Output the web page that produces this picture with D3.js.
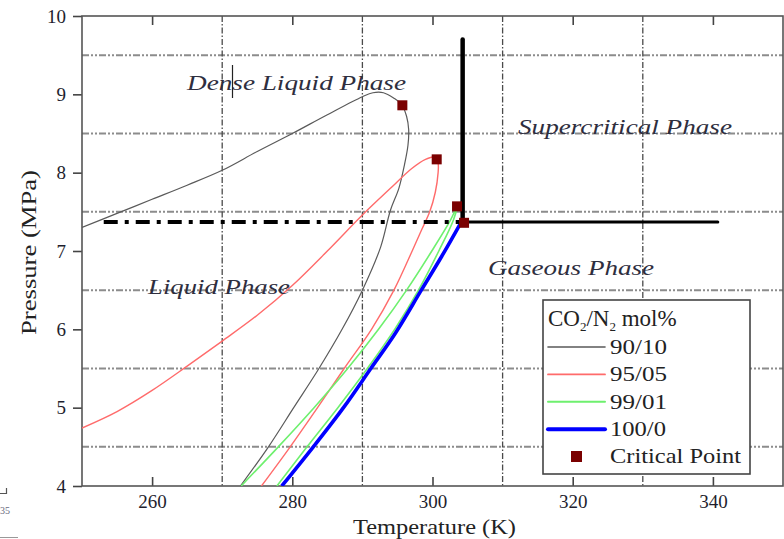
<!DOCTYPE html>
<html>
<head>
<meta charset="utf-8">
<script src="https://cdn.jsdelivr.net/npm/d3@7"></script>
<style>
  body { margin: 0; background: #fff; }
  svg { display: block; }
  svg text { font-family: "Liberation Serif", "Times New Roman", serif; }
  .phase { font-style: italic; fill: #2e2e3e; }
</style>
</head>
<body>
<div id="chart"></div>
<script>
// axis ticks and grid positions
var xTicks = [260, 280, 300, 320, 340];
var yTicks = [4, 5, 6, 7, 8, 9, 10];
var xGrid = [270, 290, 310, 330];
var yGrid = [4.5, 5.5, 6.5, 7.5, 8.5, 9.5];

// phase envelopes [T (K), P (MPa)], bubble side then dew side
var mix90 = [[250,7.3],[255,7.48],[260,7.66],[265,7.84],[270,8.03],[275,8.27],[280,8.5],[285,8.74],[290,8.97],[291.5,9.02],[293,9.02],[294.5,8.95],[295.6,8.87],[296.3,8.72],[296.6,8.55],[296.5,8.35],[296,8.1],[295.2,7.8],[294,7.52],[292.6,7.05],[290,6.5],[287.1,6.0],[283.8,5.5],[280.2,5.0],[276.6,4.5],[272.6,4.0]];
var mix95 = [[250,4.74],[255,4.95],[260,5.22],[265,5.53],[270,5.85],[275,6.18],[280,6.56],[285,7.0],[290,7.46],[294,7.8],[297,8.05],[299,8.17],[300.4,8.2],[300.8,8.12],[300.8,8.0],[300.4,7.75],[299.6,7.5],[298.5,7.28],[297.1,7.0],[294.5,6.5],[291.3,6.0],[287.4,5.5],[283.6,5.0],[279.7,4.5],[275.6,4.0]];
var mix99 = [[272.7,4.0],[278,4.5],[283.1,5.0],[287.9,5.5],[292.3,6.0],[296.3,6.5],[299.9,7.0],[302.6,7.4],[303.5,7.57],[303.0,7.4],[300.9,7.0],[298.0,6.5],[294.6,6.0],[290.7,5.5],[286.5,5.0],[282.1,4.5],[277.8,4.0]];
var pure100 = [[278.5,4.0],[283,4.5],[287.3,5.0],[291.2,5.5],[294.7,5.95],[298.4,6.5],[301.3,6.93],[304.1,7.37]];

// critical points
var critT = [295.7, 300.6, 303.5, 304.5];
var critP = [8.86, 8.17, 7.57, 7.36];

// boundary lines of the pure CO2 critical point
var boundT = 304.3, boundP = 7.37;
var boundTopP = 9.7, boundLeftT = 253.1, boundRightT = 340.7;

var legendNames = ["90/10", "95/05", "99/01", "100/0"];
var legendColors = ["#5a5a5a", "#ff6b6b", "#6ef06e", "#0000ff"];
var legendWidths = [1.2, 1.4, 1.6, 3.6];

var width = 784, height = 539;
var pLeft = 82, pRight = 783, pTop = 16, pBottom = 486;

var svg = d3.select("#chart").append("svg")
    .attr("width", width)
    .attr("height", height);

var x = d3.scaleLinear().domain([250, 350]).range([pLeft, pRight]);
var y = d3.scaleLinear().domain([4, 10]).range([pBottom, pTop]);

svg.append("clipPath").attr("id", "plotclip")
  .append("rect")
    .attr("x", pLeft).attr("y", pTop)
    .attr("width", pRight - pLeft).attr("height", pBottom - pTop);

//grid lines
svg.selectAll(".hgrid").data(yGrid).enter().append("line")
    .attr("x1", pLeft).attr("x2", pRight)
    .attr("y1", function(d) { return y(d); })
    .attr("y2", function(d) { return y(d); })
    .attr("stroke", "#8c8c8c")
    .attr("stroke-width", 2)
    .attr("stroke-dasharray", "7,2,2,2,2,2");

svg.selectAll(".vgrid").data(xGrid).enter().append("line")
    .attr("x1", function(d) { return x(d); })
    .attr("x2", function(d) { return x(d); })
    .attr("y1", pTop).attr("y2", pBottom)
    .attr("stroke", "#4a4a4a")
    .attr("stroke-width", 1.3)
    .attr("stroke-dasharray", "6,2,1.5,2");

//axes
var axB = svg.append("g")
    .attr("transform", "translate(0," + pBottom + ")")
    .call(d3.axisBottom(x).tickValues(xTicks).tickSizeInner(-9).tickSizeOuter(0).tickPadding(9));
var axT = svg.append("g")
    .attr("transform", "translate(0," + pTop + ")")
    .call(d3.axisTop(x).tickValues(xTicks).tickSizeInner(-9).tickSizeOuter(0).tickFormat(""));
var axL = svg.append("g")
    .attr("transform", "translate(" + pLeft + ",0)")
    .call(d3.axisLeft(y).tickValues(yTicks).tickFormat(d3.format("d")).tickSize(9).tickPadding(7));

[axB, axT, axL].forEach(function(g) {
    g.attr("font-family", null);
    g.select(".domain").remove();
    g.selectAll(".tick line").attr("stroke", "#444").attr("stroke-width", 1.6);
    g.selectAll("text")
        .style("font-family", "'Liberation Serif', serif")
        .style("font-size", "19px")
        .attr("fill", "#1e1e2e");
});

svg.append("rect")
    .attr("x", pLeft).attr("y", pTop)
    .attr("width", pRight - pLeft).attr("height", pBottom - pTop)
    .attr("fill", "none")
    .attr("stroke", "#555")
    .attr("stroke-width", 1.6);

//phase curves
var line = d3.line()
    .x(function(d) { return x(d[0]); })
    .y(function(d) { return y(d[1]); })
    .curve(d3.curveCatmullRom.alpha(0.5));

var curves = svg.append("g").attr("clip-path", "url(#plotclip)");
[mix90, mix95, mix99, pure100].forEach(function(data, i) {
    curves.append("path")
        .datum(data)
        .attr("d", line)
        .attr("fill", "none")
        .attr("stroke", legendColors[i])
        .attr("stroke-width", legendWidths[i]);
});

//critical point boundaries
svg.append("line")
    .attr("x1", x(boundLeftT)).attr("x2", x(boundT))
    .attr("y1", y(boundP)).attr("y2", y(boundP))
    .attr("stroke", "#000").attr("stroke-width", 4)
    .attr("stroke-dasharray", "14,7,4,7");
svg.append("line")
    .attr("x1", x(boundT)).attr("x2", x(boundRightT))
    .attr("y1", y(boundP)).attr("y2", y(boundP))
    .attr("stroke", "#000").attr("stroke-width", 3)
    .attr("stroke-linecap", "round");
svg.append("line")
    .attr("x1", x(boundT)).attr("x2", x(boundT))
    .attr("y1", y(boundTopP)).attr("y2", y(boundP))
    .attr("stroke", "#000").attr("stroke-width", 4.5)
    .attr("stroke-linecap", "round");

//critical points
var ms = 10;
svg.selectAll(".crit").data(critT).enter().append("rect")
    .attr("x", function(d) { return x(d) - ms / 2; })
    .attr("y", function(d, i) { return y(critP[i]) - ms / 2; })
    .attr("width", ms).attr("height", ms)
    .attr("fill", "#7a0000");

//phase labels
function phase(txt, px, py, len) {
    svg.append("text")
        .attr("class", "phase")
        .attr("x", px).attr("y", py)
        .attr("font-size", 22)
        .attr("textLength", len)
        .attr("lengthAdjust", "spacingAndGlyphs")
        .text(txt);
}
phase("Dense Liquid Phase", 187, 90, 219);
phase("Supercritical Phase", 518, 134, 214);
phase("Gaseous Phase", 488, 275, 166);
phase("Liquid Phase", 148, 294, 142);

// stray cursor mark inside the label
svg.append("line")
    .attr("x1", 232.5).attr("x2", 232.5).attr("y1", 65).attr("y2", 98)
    .attr("stroke", "#222").attr("stroke-width", 1.2);

//axis titles
svg.append("text")
    .attr("x", 353).attr("y", 534)
    .attr("font-size", 21)
    .attr("textLength", 163)
    .attr("lengthAdjust", "spacingAndGlyphs")
    .attr("fill", "#222")
    .text("Temperature (K)");
svg.append("text")
    .attr("transform", "translate(36,335) rotate(-90)")
    .attr("font-size", 22)
    .attr("textLength", 165)
    .attr("lengthAdjust", "spacingAndGlyphs")
    .attr("fill", "#222")
    .text("Pressure (MPa)");

//legend
var lg = svg.append("g");
lg.append("rect")
    .attr("x", 543).attr("y", 300)
    .attr("width", 207).attr("height", 174)
    .attr("fill", "#fff")
    .attr("stroke", "#444")
    .attr("stroke-width", 1.6);

var title = lg.append("text")
    .attr("x", 548).attr("y", 326)
    .attr("font-size", 23)
    .attr("fill", "#222");
title.append("tspan").text("CO");
title.append("tspan").attr("font-size", 13).attr("dy", 5).text("2");
title.append("tspan").attr("dy", -5).text("/N");
title.append("tspan").attr("font-size", 13).attr("dy", 5).text("2");
title.append("tspan").attr("dy", -5).text(" mol%");

var labelLens = [57, 57, 57, 56];
legendNames.forEach(function(name, i) {
    var ly = 347 + i * 27.4;
    lg.append("line")
        .attr("x1", 548).attr("x2", 605)
        .attr("y1", ly).attr("y2", ly)
        .attr("stroke", legendColors[i])
        .attr("stroke-width", i === 3 ? 4 : legendWidths[i] + 0.4)
        .attr("stroke-linecap", "round");
    lg.append("text")
        .attr("x", 610).attr("y", ly + 7)
        .attr("font-size", 22)
        .attr("textLength", labelLens[i])
        .attr("lengthAdjust", "spacingAndGlyphs")
        .attr("fill", "#222")
        .text(name);
});
lg.append("rect")
    .attr("x", 571).attr("y", 451)
    .attr("width", 11).attr("height", 11)
    .attr("fill", "#7a0000");
lg.append("text")
    .attr("x", 610).attr("y", 463)
    .attr("font-size", 22)
    .attr("textLength", 131)
    .attr("lengthAdjust", "spacingAndGlyphs")
    .attr("fill", "#222")
    .text("Critical Point");

// scan remnants in bottom-left corner
svg.append("path")
    .attr("d", "M0,493.5H6.5M6.5,488V494")
    .attr("stroke", "#555").attr("stroke-width", 1.2).attr("fill", "none");
svg.append("text")
    .attr("x", 0).attr("y", 514)
    .attr("font-size", 10)
    .attr("fill", "#6a6a80")
    .text("35");
svg.append("line")
    .attr("x1", 0).attr("x2", 18).attr("y1", 537.5).attr("y2", 537.5)
    .attr("stroke", "#999").attr("stroke-width", 1);
</script>
</body>
</html>
